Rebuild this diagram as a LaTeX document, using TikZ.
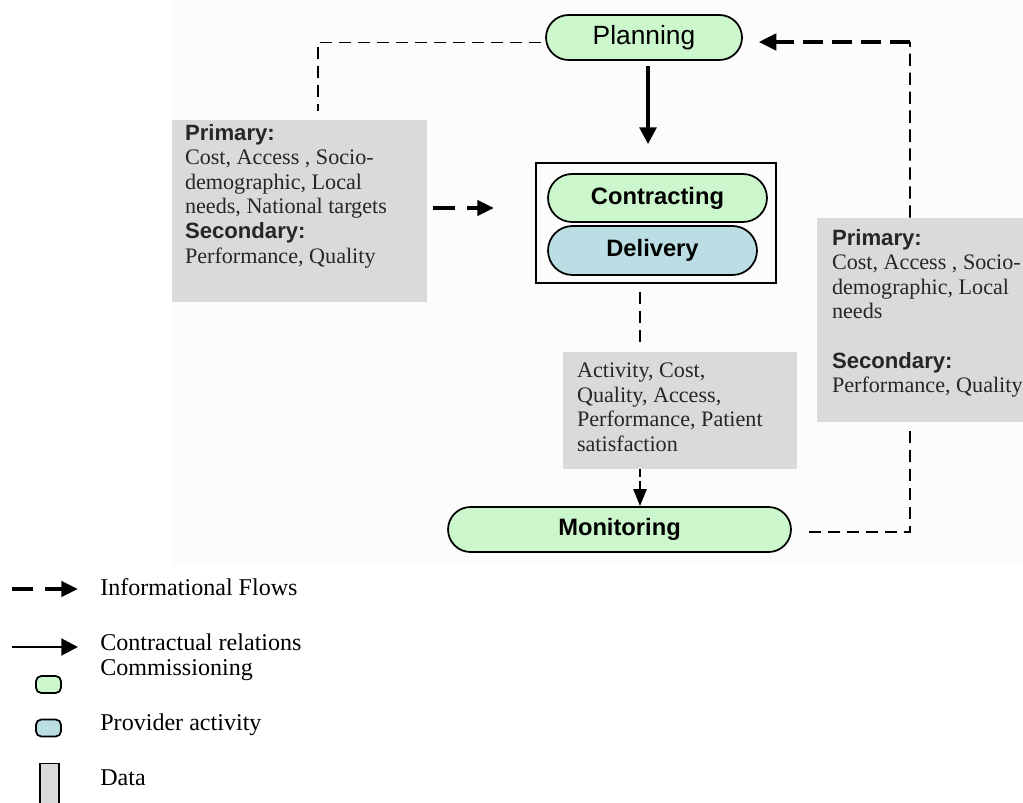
\documentclass[tikz,border=0pt]{standalone}
\usepackage{fontspec}
\setmainfont{Liberation Serif}
\setsansfont{Liberation Sans}
\usetikzlibrary{positioning,arrows.meta,shapes.misc}
\definecolor{commgreen}{RGB}{204,247,204}
\definecolor{provblue}{RGB}{187,222,228}
\definecolor{datagray}{RGB}{218,218,218}
\definecolor{pagebg}{RGB}{252,252,252}
\newcommand{\hd}[1]{{\sffamily\bfseries #1}}

\begin{document}
\begin{tikzpicture}[x=0.02cm,y=-0.02cm,
  phase/.style={rounded rectangle,draw,line width=1pt,fill=commgreen,inner sep=0pt,
    font=\sffamily\bfseries\fontsize{13.5}{16}\selectfont},
  datafill/.style={fill=datagray,inner sep=0pt},
  datatext/.style={anchor=north west,inner sep=0pt,align=left,text=black!85,
    font=\fontsize{12.6}{14}\selectfont},
  legtext/.style={anchor=west,inner sep=0pt,font=\fontsize{13.7}{16}\selectfont},
  swatch/.style={draw,line width=1pt,rounded corners=3pt,minimum width=0.5cm,
    minimum height=0.34cm,inner sep=0pt},
  info/.style={dash pattern=on 12.5pt off 6.8pt,line width=2.3pt,
    -{Triangle[length=9.5pt,width=8.5pt]}},
  infobig/.style={dash pattern=on 11.4pt off 5.1pt,line width=1.9pt,
    -{Triangle[length=10pt,width=9.5pt]}},
  infomid/.style={dash pattern=on 4.5pt off 2.3pt,line width=1.4pt,
    -{Triangle[length=9.7pt,width=7.4pt]}},
  infoline/.style={dash pattern=on 7pt off 3.8pt,line width=1.1pt},
  contract/.style={line width=2pt,-{Triangle[length=9.5pt,width=9.5pt]}}
]
\useasboundingbox (0,0) rectangle (1023,803);
\fill[pagebg] (172,0) rectangle (1023,565);

% phases
\node[phase,font=\sffamily\fontsize{15}{18}\selectfont,minimum width=3.92cm,minimum height=0.9cm] (plan) at (644,37.5) {Planning};
\node[draw,line width=1pt,minimum width=4.8cm,minimum height=2.4cm,inner sep=0pt] (core) at (656,223) {};
\node[phase,minimum width=4.38cm,minimum height=0.96cm] (contr) at (657.5,198) {Contracting};
\node[phase,fill=provblue,minimum width=4.18cm,minimum height=0.98cm] (deliv) at (652.5,250.5) {Delivery};
\node[phase,minimum width=6.86cm,minimum height=0.9cm] (mon) at (619.5,529.5) {Monitoring};

% data
\node[datafill,minimum width=5.1cm,minimum height=3.64cm] (lbox) at (299.5,211) {};
\node[datatext] (ltext) at ([shift={(13,4)}]lbox.north west)
  {\hd{Primary:}\\Cost, Access , Socio-\\demographic, Local\\needs, National targets\\\hd{Secondary:}\\Performance, Quality};
\node[datafill,minimum width=4.12cm,minimum height=4.08cm] (rbox) at (920,320) {};
\node[datatext] (rtext) at ([shift={(15,11)}]rbox.north west)
  {\hd{Primary:}\\Cost, Access , Socio-\\demographic, Local\\needs\\[14pt]\hd{Secondary:}\\Performance, Quality};
\node[datafill,minimum width=4.68cm,minimum height=2.34cm] (mbox) at (680,410.5) {};
\node[datatext] (mtext) at ([shift={(14,11)}]mbox.north west)
  {Activity, Cost,\\Quality, Access,\\Performance, Patient\\satisfaction};

% flows
\coordinate (tr) at (910,42);
\draw[contract,shorten <=0.1cm,shorten >=0.36cm] ([xshift=0.08cm]plan.south) -- ([xshift=0.08cm]plan.south |- core.north);
\draw[info,shorten <=0.12cm,shorten >=0.82cm] ([yshift=0.06cm]lbox.east) -- ([yshift=0.06cm]lbox.east -| core.west);
\draw[infoline,shorten <=0.08cm,shorten >=0.18cm] ([yshift=-0.1cm]plan.west) -| ([xshift=0.37cm]lbox.north);
\draw[infoline] ([xshift=-0.2cm]rbox.north) -- (tr);
\draw[infobig,shorten >=0.32cm] (tr) -- (tr -| plan.east);
\draw[infoline,shorten <=0.16cm,shorten >=0.16cm] ([xshift=-0.32cm]core.south) -- ([xshift=-0.32cm]core.south |- mbox.north);
\draw[infomid] ([xshift=-0.32cm]core.south |- mbox.south) -- ([xshift=-0.32cm]core.south |- mon.north);
\draw[infoline,shorten <=0.34cm,shorten >=0.1cm] ([yshift=-0.05cm]mon.east) -| ([xshift=-0.2cm]rbox.south);

% legend
\coordinate (lf0) at (12,589);
\coordinate (lf1) at (78,589);
\draw[info,dash pattern=on 12pt off 6.8pt] (lf0) -- (lf1);
\node[legtext] (lflow) at (100,587) {Informational Flows};
\coordinate (lc0) at (12,647);
\coordinate (lc1) at (78,647);
\draw[contract,line width=1.7pt] (lc0) -- (lc1);
\node[legtext] (lcontr) at (100,642) {Contractual relations};
\node[legtext] (lcomm) at (100,670) {Commissioning};
\node[swatch,fill=commgreen] (sgreen) at (48.5,684.5) {};
\node[swatch,fill=provblue] (sblue) at (48.5,728) {};
\node[legtext] (lprov) at (100,725) {Provider activity};
\node[draw,fill=datagray,line width=0.8pt,minimum width=0.38cm,minimum height=1cm,inner sep=0pt,anchor=north] (sdata) at (49.5,763) {};
\node[legtext] (ldata) at (100,778) {Data};
\end{tikzpicture}
\end{document}
